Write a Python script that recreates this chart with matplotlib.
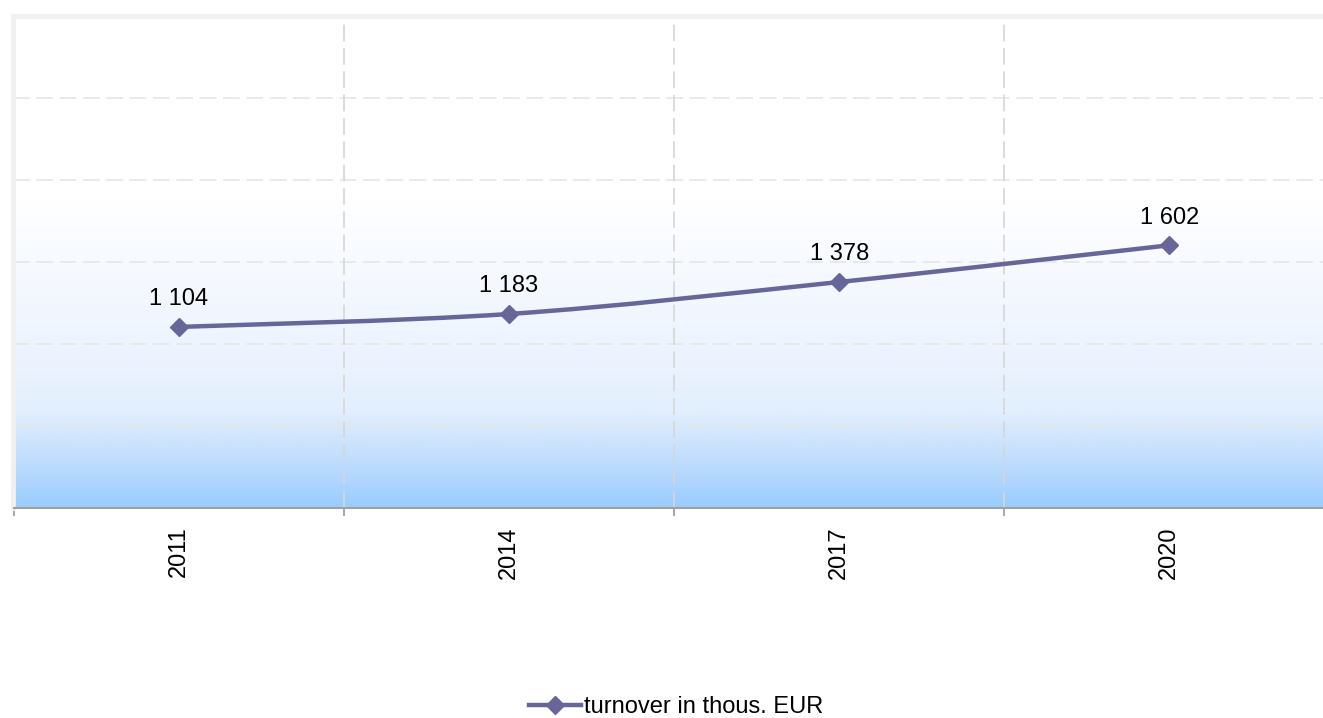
import matplotlib

matplotlib.use("Agg", force=True)
import matplotlib.pyplot as plt
import numpy as np
from matplotlib.colors import LinearSegmentedColormap
from matplotlib.path import Path
from matplotlib.patches import PathPatch
from matplotlib.lines import Line2D

plt.rcParams["font.family"] = ["Liberation Sans", "DejaVu Sans"]

years = ["2011", "2014", "2017", "2020"]
turnover = [1104, 1183, 1378, 1602]
labels = ["1 104", "1 183", "1 378", "1 602"]
series_name = "turnover in thous. EUR"

LINE = "#666699"
W, H = 1323, 718
FS = 17

fig = plt.figure(figsize=(W / 100, H / 100), dpi=100)
left, right, top, bottom = 13.5, 1334.5, 16, 508
ax = fig.add_axes([left / W, 1 - bottom / H, (right - left) / W, (bottom - top) / H])

ax.set_xlim(-0.5, len(years) - 0.5)
ax.set_ylim(0, 3000)

# background gradient (white top -> light blue bottom)
cmap = LinearSegmentedColormap.from_list(
    "bg",
    [(0.0, "#99ccff"), (0.1, "#c2defd"), (0.2, "#e3effd"), (0.3, "#ecf3fe"),
     (0.5, "#f7faff"), (0.62, "#ffffff"), (1.0, "#ffffff")],
)
grad = np.linspace(0, 1, 512).reshape(-1, 1)
ax.imshow(grad, cmap=cmap, origin="lower", aspect="auto",
          extent=[-0.5, len(years) - 0.5, 0, 3000], zorder=0)

# grid
for v in np.arange(500, 3000, 500):
    ax.axhline(v, color="#e6e6e6", lw=1.2, linestyle=(0, (10, 4)), zorder=1)
for b in np.arange(0.5, len(years) - 0.5, 1):
    ax.axvline(b, color="#d6d6d6", lw=1.2, linestyle=(0, (10, 4)), zorder=1)

# smooth line through points as bezier path
x = np.arange(len(years), dtype=float)
y = np.array(turnover, dtype=float)
pts = np.column_stack([x, y])
verts = [pts[0]]
codes = [Path.MOVETO]
for i in range(len(pts) - 1):
    p_prev = pts[i - 1] if i > 0 else pts[i]
    p_next2 = pts[i + 2] if i + 2 < len(pts) else pts[i + 1]
    c1 = pts[i] + (pts[i + 1] - p_prev) / 6
    c2 = pts[i + 1] - (p_next2 - pts[i]) / 6
    verts += [c1, c2, pts[i + 1]]
    codes += [Path.CURVE4] * 3
ax.add_patch(PathPatch(Path(verts, codes), facecolor="none", edgecolor=LINE,
                       lw=3.2, zorder=3, capstyle="round"))
ax.plot(x, y, linestyle="none", marker="D", markersize=9.5, color=LINE, zorder=4)

for xi, yi, lab in zip(x, y, labels):
    ax.annotate(lab, (xi, yi), xytext=(0, 12), textcoords="offset points",
                ha="center", va="bottom", fontsize=FS, color="black")

# axes styling
ax.set_yticks([])
ax.set_xticks(np.arange(-0.5, len(years), 1))
ax.set_xticklabels([])
ax.set_xticks(x, minor=True)
ax.set_xticklabels(years, minor=True, rotation=90, fontsize=FS, va="top")
ax.tick_params(axis="x", which="major", length=6, width=1.2, color="#999999")
ax.tick_params(axis="x", which="minor", length=0, pad=13)
ax.tick_params(axis="y", length=0)
for side in ("left", "top"):
    ax.spines[side].set_color("#f0f0f0")
    ax.spines[side].set_linewidth(3.5)
ax.spines["right"].set_visible(False)
ax.spines["bottom"].set_color("#a0a0a0")
ax.spines["bottom"].set_linewidth(1.5)

handle = Line2D([], [], color=LINE, lw=3.2, marker="D", markersize=9.5)
fig.legend([handle], [series_name], loc="center", bbox_to_anchor=(676 / W, 1 - 707 / H),
           frameon=False, fontsize=FS, handlelength=2.2, handletextpad=0.1)

fig.savefig("out.png", dpi=100)
